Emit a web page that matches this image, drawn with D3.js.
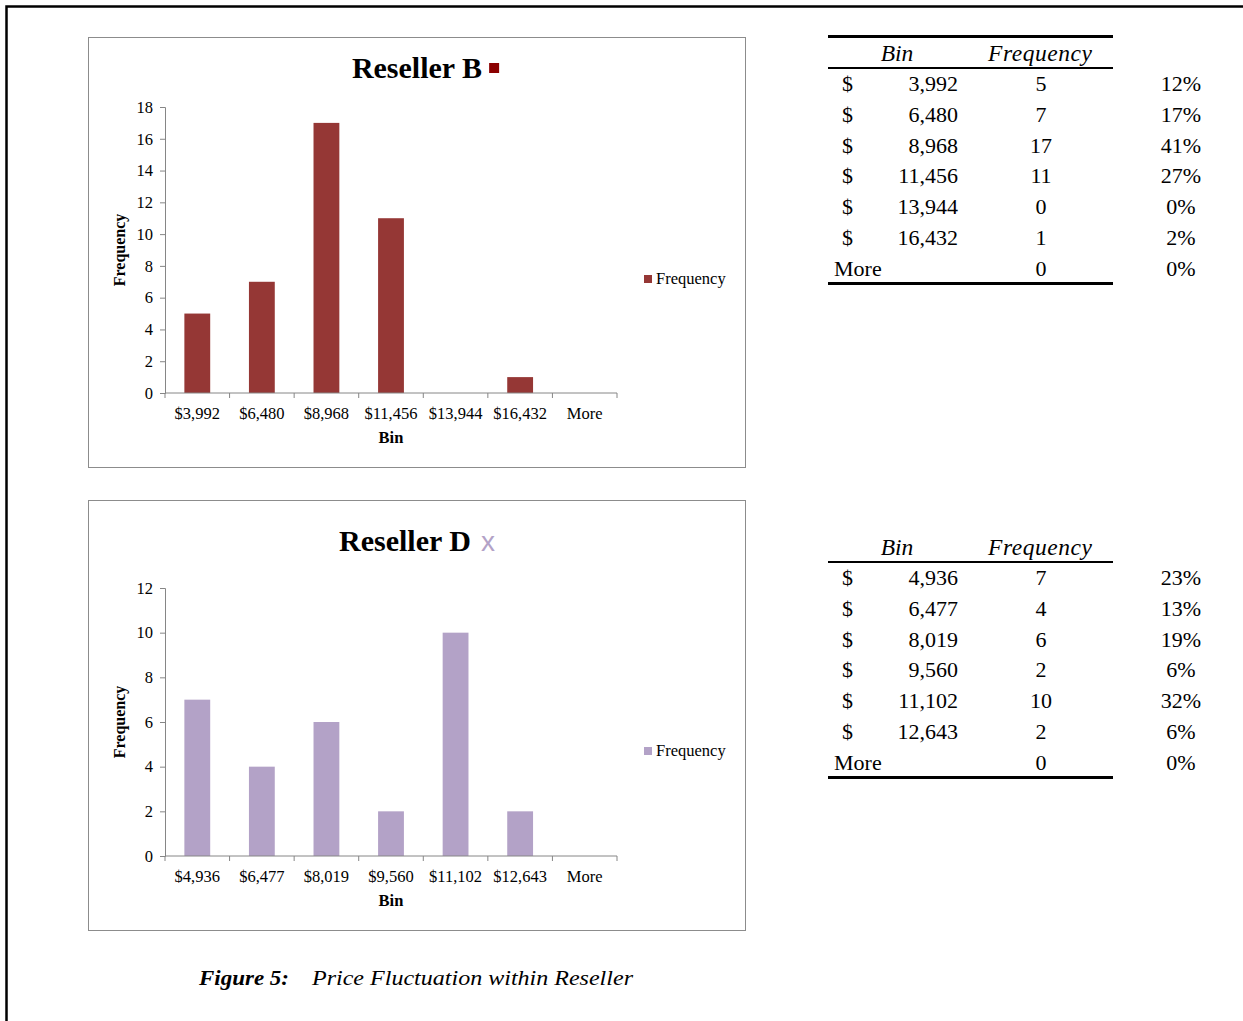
<!DOCTYPE html>
<html>
<head>
<meta charset="utf-8">
<script src="https://cdn.jsdelivr.net/npm/d3@7"></script>
<style>
  html, body { margin: 0; padding: 0; background: #fff; }
  svg { display: block; }
  svg text { font-family: "Liberation Serif", "Times New Roman", serif; }
  svg text.sans { font-family: "Liberation Sans", Arial, sans-serif; }
</style>
</head>
<body>
<svg id="page" width="1243" height="1021" font-family="Liberation Serif"></svg>
<script>
// Histogram bins and counts for each reseller
const binsB = ["$3,992", "$6,480", "$8,968", "$11,456", "$13,944", "$16,432", "More"];
const freqB = [5, 7, 17, 11, 0, 1, 0];
const pctB = ["12%", "17%", "41%", "27%", "0%", "2%", "0%"];
const tableBinB = ["3,992", "6,480", "8,968", "11,456", "13,944", "16,432", "More"];
const yTicksB = [0, 2, 4, 6, 8, 10, 12, 14, 16, 18];

const binsD = ["$4,936", "$6,477", "$8,019", "$9,560", "$11,102", "$12,643", "More"];
const freqD = [7, 4, 6, 2, 10, 2, 0];
const pctD = ["23%", "13%", "19%", "6%", "32%", "6%", "0%"];
const tableBinD = ["4,936", "6,477", "8,019", "9,560", "11,102", "12,643", "More"];
const yTicksD = [0, 2, 4, 6, 8, 10, 12];

const SERIF = "Liberation Serif";
const svg = d3.select("#page");

// page frame (top and left rules)
svg.append("path")
  .attr("d", "M6.5,1021 L6.5,6.5 L1243,6.5")
  .attr("fill", "none").attr("stroke", "#000").attr("stroke-width", 2.5);

function drawChart(opt) {
  const g = svg.append("g").attr("transform", `translate(${opt.left},${opt.top})`)
    .attr("font-family", SERIF);
  // chart box
  g.append("rect").attr("x", 0.5).attr("y", 0.5).attr("width", 657).attr("height", 430)
    .attr("fill", "#fff").attr("stroke", "#8c8c8c").attr("stroke-width", 1);

  const plotL = 77, plotR = 529;
  const x = d3.scaleBand().domain(opt.bins).range([plotL, plotR]).paddingInner(0.6).paddingOuter(0.3);
  const y = d3.scaleLinear().domain([0, opt.yMax]).range([opt.plotBottom, opt.plotTop]);

  // bars
  g.selectAll("rect.bar").data(opt.freq).enter().append("rect")
    .attr("class", "bar")
    .attr("x", (d, i) => x(opt.bins[i]))
    .attr("width", x.bandwidth())
    .attr("y", d => y(d))
    .attr("height", d => y(0) - y(d))
    .attr("fill", opt.color);

  // y axis
  const ya = g.append("g").attr("transform", `translate(${plotL},0)`)
    .call(d3.axisLeft(y).tickValues(opt.yTicks).tickSize(5).tickSizeOuter(5).tickPadding(7));
  ya.select(".domain").attr("stroke", "#868686");
  ya.selectAll(".tick line").attr("stroke", "#868686");
  ya.selectAll(".tick text").attr("font-family", SERIF).attr("font-size", 16.5).attr("fill", "#000");

  // x axis with ticks on category boundaries
  g.append("line").attr("x1", plotL).attr("x2", plotR).attr("y1", y(0)).attr("y2", y(0))
    .attr("stroke", "#868686");
  const step = x.step();
  const edges = d3.range(opt.bins.length + 1).map(i => plotL + i * step);
  g.selectAll("line.xt").data(edges).enter().append("line")
    .attr("x1", d => d).attr("x2", d => d).attr("y1", y(0)).attr("y2", y(0) + 5)
    .attr("stroke", "#868686");
  g.selectAll("text.xl").data(opt.bins).enter().append("text")
    .attr("x", d => x(d) + x.bandwidth() / 2)
    .attr("y", y(0) + 26)
    .attr("font-family", SERIF)
    .attr("text-anchor", "middle").attr("font-size", 16.5).text(d => d);

  // axis titles
  g.append("text").attr("x", (plotL + plotR) / 2).attr("y", y(0) + 50)
    .attr("font-family", SERIF)
    .attr("text-anchor", "middle").attr("font-size", 16.5).attr("font-weight", "bold").text("Bin");
  g.append("text")
    .attr("transform", `translate(37,${(opt.plotTop + opt.plotBottom) / 2}) rotate(-90)`)
    .attr("font-family", SERIF)
    .attr("text-anchor", "middle").attr("font-size", 16).attr("font-weight", "bold").text("Frequency");

  // title with series marker
  const t = g.append("text").attr("x", opt.titleX).attr("y", opt.titleY)
    .attr("font-family", SERIF)
    .attr("text-anchor", "middle").attr("font-size", 30).attr("font-weight", "bold").text(opt.title);
  const tw = t.node().getComputedTextLength();
  if (opt.marker === "square") {
    g.append("rect").attr("x", opt.titleX + tw / 2 + 7).attr("y", opt.titleY - 15)
      .attr("width", 10).attr("height", 10).attr("fill", "#8b0000");
  } else {
    g.append("text").attr("class", "sans").attr("x", opt.titleX + tw / 2 + 10).attr("y", opt.titleY)
      .attr("font-size", 28).attr("fill", opt.color).text("x");
  }

  // legend
  g.append("rect").attr("x", 556).attr("y", opt.legendY - 4).attr("width", 8).attr("height", 8)
    .attr("fill", opt.color);
  g.append("text").attr("x", 568).attr("y", opt.legendY + 5).attr("font-family", SERIF)
    .attr("font-size", 16.5).text("Frequency");
}

drawChart({ left: 88, top: 37, bins: binsB, freq: freqB, yMax: 18, yTicks: yTicksB,
  plotTop: 70, plotBottom: 356, color: "#953735", title: "Reseller B", titleX: 329, titleY: 41,
  marker: "square", legendY: 242 });
drawChart({ left: 88, top: 500, bins: binsD, freq: freqD, yMax: 12, yTicks: yTicksD,
  plotTop: 88, plotBottom: 356, color: "#b3a2c7", title: "Reseller D", titleX: 317, titleY: 51,
  marker: "x", legendY: 251 });

// frequency tables
function drawTable(opt) {
  const g = svg.append("g").attr("font-size", 22).attr("font-family", SERIF);
  const txt = () => g.append("text").attr("font-family", SERIF).attr("font-size", 22);
  const rowY = d3.range(opt.bins.length).map(i => opt.firstRow + i * opt.rowStep);
  if (opt.topRule) {
    g.append("rect").attr("x", 828).attr("y", opt.topRule).attr("width", 285).attr("height", 3).attr("fill", "#000");
  }
  txt().attr("x", 897).attr("y", opt.headerY).attr("text-anchor", "middle").attr("font-size", 23.5)
    .attr("font-style", "italic").text("Bin");
  txt().attr("x", 1040).attr("y", opt.headerY).attr("text-anchor", "middle").attr("font-size", 23.5)
    .attr("font-style", "italic").attr("textLength", 104).attr("lengthAdjust", "spacing").text("Frequency");
  g.append("rect").attr("x", 828).attr("y", opt.headerRule).attr("width", 285).attr("height", 2).attr("fill", "#000");

  opt.bins.forEach((b, i) => {
    const yy = rowY[i];
    if (b === "More") {
      txt().attr("x", 834).attr("y", yy).text("More");
    } else {
      txt().attr("x", 842).attr("y", yy).text("$");
      txt().attr("x", 958).attr("y", yy).attr("text-anchor", "end").text(b);
    }
    txt().attr("x", 1041).attr("y", yy).attr("text-anchor", "middle").text(opt.freq[i]);
    txt().attr("x", 1181).attr("y", yy).attr("text-anchor", "middle").text(opt.pct[i]);
  });
  g.append("rect").attr("x", 828).attr("y", opt.bottomRule).attr("width", 285).attr("height", 3).attr("fill", "#000");
}

drawTable({ bins: tableBinB, freq: freqB, pct: pctB, topRule: 35, headerY: 61, headerRule: 67,
  firstRow: 91, rowStep: 30.8, bottomRule: 282 });
drawTable({ bins: tableBinD, freq: freqD, pct: pctD, topRule: null, headerY: 555, headerRule: 561,
  firstRow: 585, rowStep: 30.8, bottomRule: 776 });

// caption
svg.append("text").attr("x", 199).attr("y", 985).attr("font-family", SERIF)
  .attr("font-size", 22).attr("font-style", "italic").attr("font-weight", "bold")
  .attr("textLength", 90).attr("lengthAdjust", "spacingAndGlyphs").text("Figure 5:");
svg.append("text").attr("x", 312).attr("y", 985).attr("font-family", SERIF)
  .attr("font-size", 22).attr("font-style", "italic")
  .attr("textLength", 321).attr("lengthAdjust", "spacingAndGlyphs").text("Price Fluctuation within Reseller");
</script>
</body>
</html>
